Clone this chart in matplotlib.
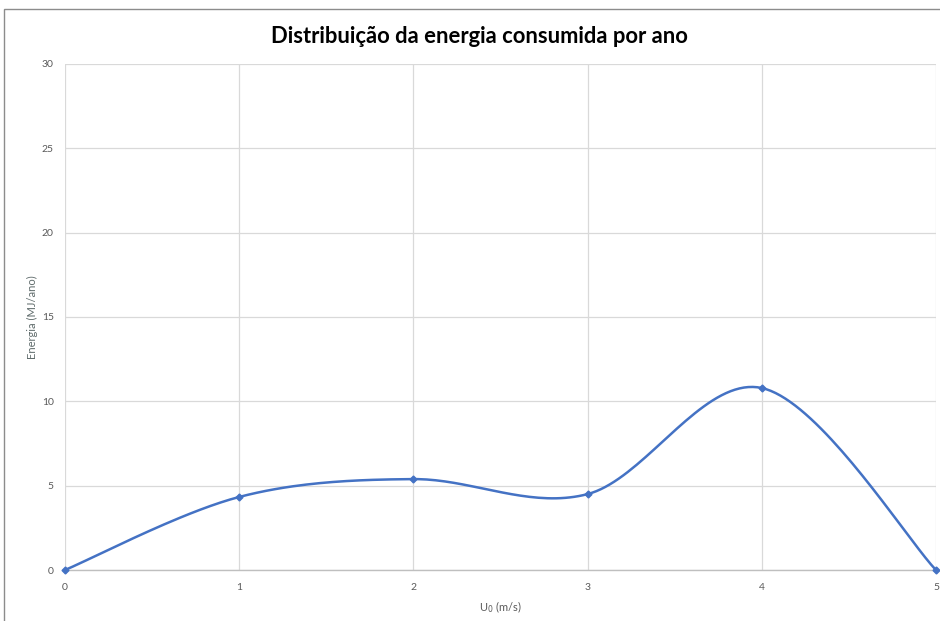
import numpy as np
import matplotlib.pyplot as plt
from matplotlib.patches import Rectangle

# wind speed (m/s) and yearly energy (MJ/ano)
u0 = [0, 1, 2, 3, 4, 5]
energia = [0, 4.33, 5.39, 4.5, 10.79, 0]

TITLE = "Distribuição da energia consumida por ano"
XLABEL = "U$_0$ (m/s)"
YLABEL = "Energia (MJ/ano)"

LINE_COLOR = "#4472C4"
TEXT_COLOR = "#595959"
GRID_COLOR = "#d9d9d9"


def smooth(x, y, n=40):
    """Catmull-Rom style cubic Bezier through the points (spreadsheet 'smoothed line')."""
    x = np.asarray(x, float)
    y = np.asarray(y, float)
    px = np.concatenate([[x[0]], x, [x[-1]]])
    py = np.concatenate([[y[0]], y, [y[-1]]])
    xs, ys = [], []
    t = np.linspace(0, 1, n)
    for i in range(1, len(px) - 2):
        p0 = np.array([px[i], py[i]])
        p3 = np.array([px[i + 1], py[i + 1]])
        p1 = p0 + (np.array([px[i + 1], py[i + 1]]) - np.array([px[i - 1], py[i - 1]])) / 6
        p2 = p3 - (np.array([px[i + 2], py[i + 2]]) - np.array([px[i], py[i]])) / 6
        b = ((1 - t) ** 3)[:, None] * p0 + (3 * (1 - t) ** 2 * t)[:, None] * p1 \
            + (3 * (1 - t) * t ** 2)[:, None] * p2 + (t ** 3)[:, None] * p3
        xs.append(b[:, 0])
        ys.append(b[:, 1])
    return np.concatenate(xs), np.concatenate(ys)


plt.rcParams["font.family"] = ["Lato", "DejaVu Sans"]

fig = plt.figure(figsize=(9.4, 6.21), dpi=100)
ax = fig.add_axes([0.0691, 0.0821, 0.9266, 0.8149])

sx, sy = smooth(u0, energia)
ax.plot(sx, sy, color=LINE_COLOR, linewidth=1.8, zorder=3, clip_on=False)
ax.plot(u0, energia, linestyle="none", marker="D", markersize=3.5,
        color=LINE_COLOR, zorder=4, clip_on=False)

ax.set_xlim(0, 5)
ax.set_ylim(0, 30)
ax.set_xticks(range(0, 6))
ax.set_yticks(range(0, 31, 5))
ax.grid(True, color=GRID_COLOR, linewidth=0.9)
ax.set_axisbelow(True)
for side in ["top", "right", "left"]:
    ax.spines[side].set_visible(False)
ax.spines["bottom"].set_color("#bfbfbf")
ax.spines["bottom"].set_linewidth(1.0)
ax.tick_params(length=0, labelsize=7.5, labelcolor=TEXT_COLOR)
ax.tick_params(axis="x", pad=9)
ax.tick_params(axis="y", pad=8)

ax.set_xlabel(XLABEL, fontsize=8, color=TEXT_COLOR, labelpad=6)
ax.set_ylabel(YLABEL, fontsize=8, color="#5f6b6b", labelpad=3)
fig.text(0.51, 0.942, TITLE, ha="center", va="center", fontsize=15.8,
         fontweight="bold", color="black")

# chart-area border, cut off at the right and bottom edges
fig.add_artist(Rectangle((4 / 940, -0.1), 1.2, 1 - 9 / 621 + 0.1,
                         transform=fig.transFigure, fill=False,
                         edgecolor="#8c8c8c", linewidth=1.0))

fig.savefig("out.png", dpi=100)
